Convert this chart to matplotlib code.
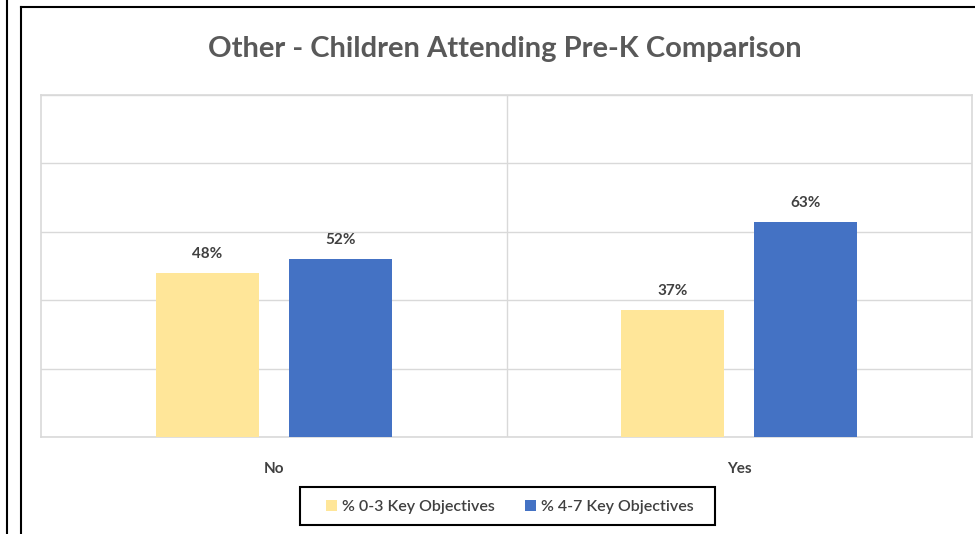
#!/usr/bin/env python3

# Grouped bar chart: children attending Pre-K, key objectives comparison.

import matplotlib
matplotlib.use('Agg')
import matplotlib.pyplot
import matplotlib.lines
import matplotlib.patches
import numpy

CATEGORIES = ['No', 'Yes']
SERIES_NAMES = ['% 0-3 Key Objectives', '% 4-7 Key Objectives']
LOW_VALUES = [0.48, 0.37]
HIGH_VALUES = [0.52, 0.63]

COLORS = ['#FFE699', '#4472C4']
FONT_FAMILY = ['Lato', 'DejaVu Sans']
TEXT_COLOR = '#595959'
GRID_COLOR = '#D9D9D9'

BAR_WIDTH = 0.221
BAR_OFFSET = 0.143

def main():
    width, height, dpi = 975, 534, 100
    figure = matplotlib.pyplot.figure(figsize = (width / dpi, height / dpi), dpi = dpi)

    # Plot area in pixels: x 41..972, y 95..437.
    left, right, top, bottom = 41, 972, 95, 437
    axis = figure.add_axes([left / width, 1 - bottom / height, (right - left) / width, (bottom - top) / height])

    positions = numpy.arange(len(CATEGORIES))
    seriesValues = [LOW_VALUES, HIGH_VALUES]
    offsets = [-BAR_OFFSET, BAR_OFFSET]

    for values, offset, color, name in zip(seriesValues, offsets, COLORS, SERIES_NAMES):
        bars = axis.bar(positions + offset, values, BAR_WIDTH, color = color, label = name, zorder = 3)
        for bar, value in zip(bars, values):
            axis.text(bar.get_x() + bar.get_width() / 2, value + 0.035, '%d%%' % round(value * 100),
                ha = 'center', va = 'bottom', fontsize = 11, fontweight = 'bold',
                color = '#404040', family = FONT_FAMILY)

    axis.set_xlim(-0.5, len(CATEGORIES) - 0.5)
    axis.set_ylim(0, 1.0)

    axis.set_yticks(numpy.arange(0, 1.01, 0.2))
    axis.yaxis.grid(True, color = GRID_COLOR, linewidth = 1.0, zorder = 0)
    axis.tick_params(axis = 'y', left = False, labelleft = False)

    # Category divider lines.
    for boundary in numpy.arange(0.5, len(CATEGORIES) - 0.5, 1.0):
        axis.axvline(boundary, color = GRID_COLOR, linewidth = 1.0, zorder = 0)

    axis.set_xticks(positions, CATEGORIES, fontsize = 11, fontweight = 'bold',
        color = '#404040', family = FONT_FAMILY)
    axis.tick_params(axis = 'x', length = 0, pad = 18)

    for spine in axis.spines.values():
        spine.set_color(GRID_COLOR)
        spine.set_linewidth(1.2)

    figure.text(505 / width, 1 - 49 / height, 'Other - Children Attending Pre-K Comparison',
        ha = 'center', va = 'center', fontsize = 21, fontweight = 'bold',
        color = TEXT_COLOR, family = FONT_FAMILY)

    legend = figure.legend(loc = 'center', bbox_to_anchor = (510 / width, 1 - 507 / height),
        ncol = 2, frameon = False, handlelength = 0.7, handleheight = 0.7,
        handletextpad = 0.3, columnspacing = 1.9, borderpad = 0, borderaxespad = 0,
        prop = {'family': FONT_FAMILY, 'size': 11.5, 'weight': 'semibold'})
    for text in legend.get_texts():
        text.set_color('#404040')

    # Legend box, drawn separately to get the wider padding of the original.
    legendBox = matplotlib.patches.Rectangle((300 / width, 1 - 525 / height), 415 / width, 38 / height,
        transform = figure.transFigure, fill = False, edgecolor = 'black', linewidth = 1.5)
    figure.add_artist(legendBox)

    # Outer frame lines from the screenshot.
    frameStyle = {'color': 'black', 'linewidth': 1.5, 'transform': figure.transFigure}
    figure.add_artist(matplotlib.lines.Line2D([7 / width, 7 / width], [0, 1], **frameStyle))
    figure.add_artist(matplotlib.lines.Line2D([21 / width, 21 / width], [0, 1 - 7 / height], **frameStyle))
    figure.add_artist(matplotlib.lines.Line2D([21 / width, 1], [1 - 7 / height, 1 - 7 / height], **frameStyle))

    figure.savefig('out.png', dpi = dpi)

if (__name__ == '__main__'):
    main()
